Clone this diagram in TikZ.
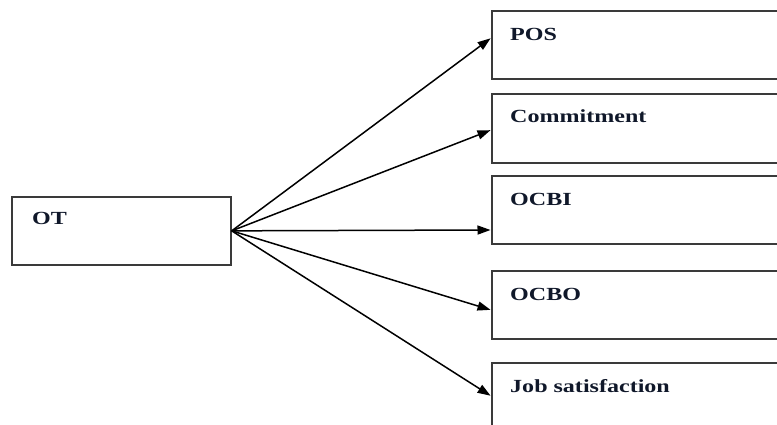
\documentclass[tikz,border=0pt]{standalone}
\usepackage{fontspec}
\setmainfont{Liberation Serif}[FakeStretch=1.3]
\usetikzlibrary{arrows.meta}
\definecolor{boxline}{HTML}{3A3A3A}
\definecolor{txt}{HTML}{10182A}
\tikzset{
  boxnode/.style={draw=boxline, line width=1.7pt, rectangle, inner sep=0pt, anchor=north west},
  lbl/.style={anchor=base west, inner sep=0pt, font=\fontsize{18.5}{20}\selectfont\bfseries, text=txt},
  arr/.style={draw=black, line width=1.5pt, -{Triangle[length=13pt,width=9pt]}, shorten >=0.5pt}
}
\begin{document}
\begin{tikzpicture}[x=1pt,y=-1pt]
\clip (0,0) rectangle (777,425);
\fill[white] (0,0) rectangle (777,425);
% left box
\node[boxnode, minimum width=219pt, minimum height=68pt] (ot) at (11,196) {};
\node[lbl] (otl) at (32,225) {OT};
% right boxes
\node[boxnode, minimum width=300pt, minimum height=68pt] (pos) at (491,10) {};
\node[boxnode, minimum width=300pt, minimum height=69pt] (com) at (491,93) {};
\node[boxnode, minimum width=300pt, minimum height=68pt] (ocbi) at (491,175) {};
\node[boxnode, minimum width=300pt, minimum height=68pt] (ocbo) at (491,270) {};
\node[boxnode, minimum width=300pt, minimum height=90pt] (job) at (491,362) {};
\node[lbl] (posl) at (510,41) {POS};
\node[lbl] (coml) at (510,123) {Commitment};
\node[lbl] (ocbil) at (510,205) {OCBI};
\node[lbl] (ocbol) at (510,300) {OCBO};
\node[lbl] (jobl) at (510,392) {Job satisfaction};
% arrow targets
\coordinate (tpos) at (491,38);
\coordinate (tcom) at (491,130);
\coordinate (tocbi) at (491,230);
\coordinate (tocbo) at (491,310);
\coordinate (tjob) at (491,396);
\draw[arr] (ot.east) -- (tpos);
\draw[arr] (ot.east) -- (tcom);
\draw[arr] (ot.east) -- (tocbi);
\draw[arr] (ot.east) -- (tocbo);
\draw[arr] (ot.east) -- (tjob);
\end{tikzpicture}
\end{document}
